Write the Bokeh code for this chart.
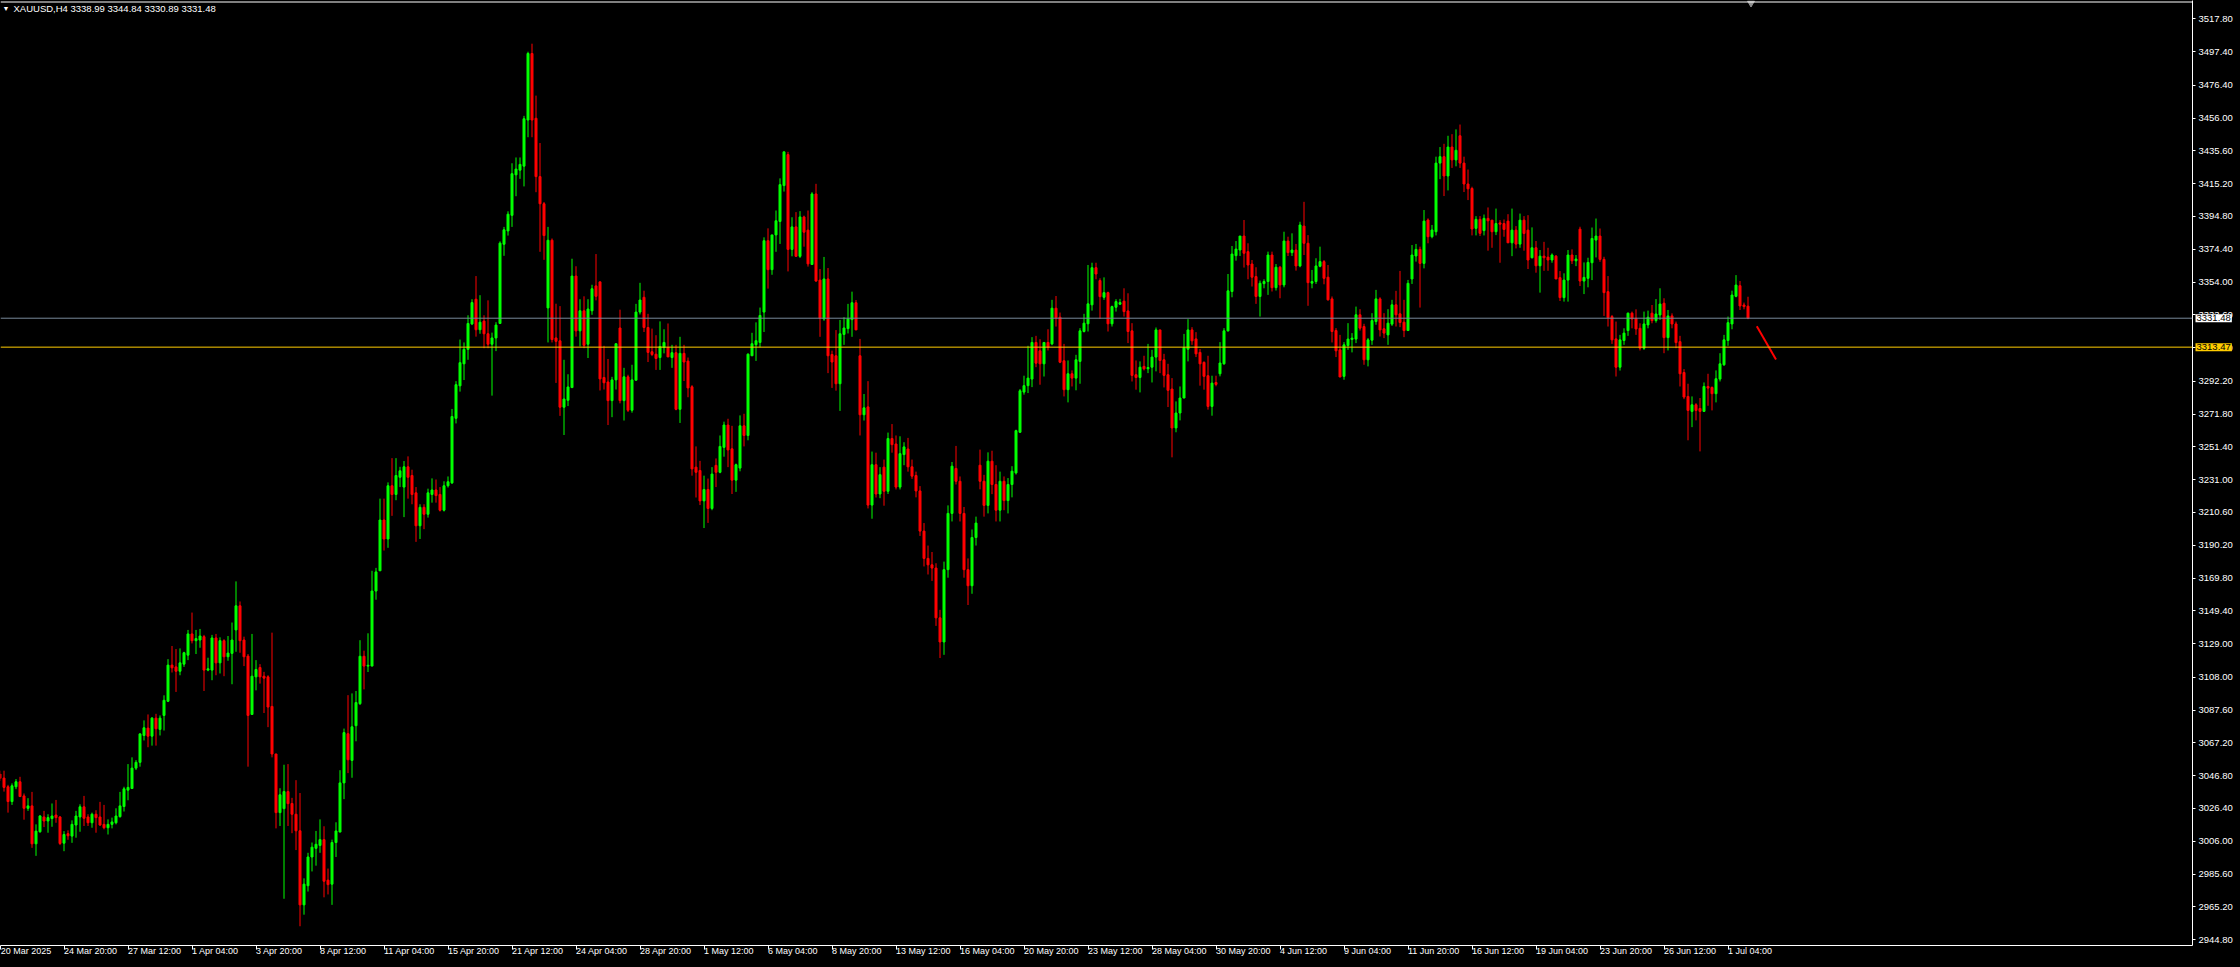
from bokeh.plotting import figure
from bokeh.models import Range1d, FixedTicker, Span, Label, ColumnDataSource, GlobalInlineStyleSheet
from bokeh.embed import file_html
from bokeh.resources import INLINE

# ---------------- data ----------------
symbol = "XAUUSD,H4"

date_labels = ["20 Mar 2025", "24 Mar 20:00", "27 Mar 12:00", "1 Apr 04:00", "3 Apr 20:00",
               "8 Apr 12:00", "11 Apr 04:00", "15 Apr 20:00", "21 Apr 12:00", "24 Apr 04:00",
               "28 Apr 20:00", "1 May 12:00", "6 May 04:00", "8 May 20:00", "13 May 12:00",
               "16 May 04:00", "20 May 20:00", "23 May 12:00", "28 May 04:00", "30 May 20:00",
               "4 Jun 12:00", "9 Jun 04:00", "11 Jun 20:00", "16 Jun 12:00", "19 Jun 04:00",
               "23 Jun 20:00", "26 Jun 12:00", "1 Jul 04:00"]
bars_per_label = 16

opens = [
3047.8,3045.3,3039.9,3030.7,3039.9,3043.0,3034.2,3026.5,3028.0,3004.4,3011.9,3021.1,3018.6,3020.1,3022.3,3021.1,3004.8,3010.7,3009.2,3016.1,
3021.1,3027.4,3021.1,3017.5,3022.8,3021.1,3016.5,3014.4,3016.5,3017.5,3021.3,3027.6,3037.8,3038.8,3051.5,3055.1,3071.8,3076.4,3071.4,3082.6,
3075.6,3084.3,3093.1,3115.6,3114.5,3111.8,3116.2,3121.8,3135.0,3130.8,3131.2,3133.3,3112.5,3112.5,3132.5,3117.0,3130.8,3120.8,3122.9,3137.5,
3152.5,3131.2,3121.2,3084.9,3108.3,3114.1,3108.7,3108.3,3089.9,3060.3,3023.8,3026.3,3036.9,3029.5,3022.8,3012.5,2966.4,2978.3,2996.2,3001.6,
3003.4,3007.0,2981.8,2979.3,3005.2,3011.7,3042.3,3072.9,3056.3,3077.9,3091.6,3121.1,3115.0,3115.0,3161.7,3174.3,3205.9,3194.1,3227.2,3221.8,
3232.5,3226.4,3239.0,3233.6,3222.8,3202.3,3213.8,3209.5,3221.8,3224.6,3221.8,3212.0,3227.2,3229.0,3269.2,3289.4,3303.1,3312.1,3327.9,3343.3,
3324.3,3329.7,3321.8,3315.3,3319.2,3328.2,3377.5,3385.8,3395.5,3420.7,3423.6,3426.1,3454.8,3496.2,3455.9,3419.6,3402.7,3337.9,3380.0,3319.2,
3317.4,3276.1,3280.4,3288.3,3357.7,3323.6,3336.1,3315.3,3336.1,3351.6,3354.1,3294.6,3291.8,3280.2,3293.1,3325.4,3280.2,3295.0,3274.2,3292.9,
3335.3,3344.5,3325.7,3310.6,3309.1,3307.0,3313.2,3313.2,3307.0,3310.0,3274.8,3309.6,3304.8,3288.8,3238.8,3236.7,3217.8,3224.9,3213.1,3239.9,
3235.6,3251.1,3265.0,3250.2,3230.7,3238.2,3264.5,3258.5,3308.1,3315.0,3316.4,3335.3,3379.7,3361.7,3383.3,3391.7,3414.0,3433.3,3374.3,3388.3,
3370.0,3394.5,3386.3,3364.9,3408.8,3355.2,3331.0,3355.9,3308.9,3308.1,3290.7,3321.4,3325.0,3330.6,3341.1,3308.1,3271.4,3276.3,3215.2,3240.3,
3222.1,3238.8,3223.8,3256.6,3253.2,3226.4,3246.6,3250.1,3239.0,3233.6,3224.0,3199.0,3182.0,3178.0,3176.0,3145.0,3130.0,3175.0,3210.0,3238.0,
3230.0,3210.0,3175.0,3165.0,3195.0,3240.0,3230.0,3215.0,3242.5,3228.0,3212.0,3230.0,3218.0,3228.0,3235.2,3260.5,3285.5,3289.5,3293.6,3316.4,
3311.2,3303.1,3316.4,3315.5,3337.7,3332.1,3305.0,3287.0,3296.9,3294.2,3304.6,3323.2,3328.0,3339.8,3362.9,3354.9,3344.5,3347.4,3328.0,3338.3,
3340.2,3342.1,3336.0,3323.6,3296.3,3294.6,3301.5,3300.0,3301.0,3307.3,3324.2,3305.6,3296.3,3287.4,3263.2,3272.5,3281.8,3312.2,3324.2,3318.6,
3310.2,3304.0,3295.7,3276.6,3291.5,3296.9,3303.1,3323.6,3348.1,3370.4,3373.9,3382.6,3372.9,3365.2,3357.4,3345.0,3353.0,3354.3,3370.8,3350.5,
3363.2,3352.2,3379.5,3372.3,3373.9,3364.0,3388.8,3378.1,3353.3,3354.3,3363.8,3366.7,3357.0,3343.5,3323.8,3311.8,3295.3,3314.5,3318.3,3318.5,
3333.6,3326.3,3305.6,3317.8,3329.4,3343.5,3324.9,3321.1,3327.8,3339.8,3334.2,3329.0,3323.8,3355.9,3370.2,3374.3,3365.6,3392.6,3382.2,3385.3,
3428.0,3432.0,3420.0,3438.0,3430.0,3445.0,3428.0,3415.0,3412.2,3387.4,3393.0,3386.0,3393.6,3392.5,3385.3,3390.8,3390.4,3391.9,3378.4,3386.3,
3377.6,3392.5,3386.3,3369.1,3375.3,3364.1,3370.1,3369.5,3367.7,3370.1,3356.7,3344.3,3355.2,3370.8,3367.2,3386.9,3354.6,3356.3,3366.0,3380.1,
3382.6,3368.1,3348.0,3332.5,3318.6,3301.0,3317.6,3323.8,3334.6,3331.4,3325.2,3312.8,3327.3,3334.6,3330.0,3333.5,3340.8,3319.4,3332.9,3327.9,
3316.9,3297.7,3282.8,3273.5,3277.6,3275.3,3273.5,3289.0,3288.4,3284.5,3293.6,3302.5,3317.6,3327.9,3345.1,3351.7,3339.7,3338.99]

highs = [
3049.9,3049.9,3041.1,3042.0,3044.7,3046.1,3035.7,3032.8,3036.7,3016.5,3022.3,3024.9,3022.8,3029.5,3031.7,3021.7,3012.3,3012.8,3019.0,3024.9,
3029.0,3034.2,3022.8,3023.8,3025.3,3030.5,3028.6,3019.6,3020.7,3026.5,3036.7,3039.9,3054.0,3058.2,3056.5,3073.2,3081.2,3084.9,3083.3,3085.3,
3084.3,3096.8,3119.3,3127.5,3125.6,3126.0,3123.9,3137.5,3148.3,3137.5,3138.1,3134.4,3120.2,3134.4,3135.0,3132.9,3131.7,3133.7,3142.1,3167.7,
3155.2,3133.3,3122.5,3135.0,3118.7,3116.2,3111.4,3109.3,3135.8,3060.3,3039.0,3053.6,3054.0,3033.0,3044.0,3036.0,2982.9,2998.8,3005.2,3012.4,
3019.6,3015.3,2989.0,3007.0,3017.8,3050.2,3076.1,3096.9,3098.0,3099.5,3131.1,3124.6,3135.4,3174.3,3176.1,3219.2,3219.2,3229.3,3244.4,3244.4,
3239.0,3242.6,3245.5,3237.2,3226.4,3215.7,3215.7,3225.4,3231.8,3231.1,3226.4,3230.0,3233.0,3275.0,3292.3,3318.2,3316.4,3333.3,3343.3,3357.7,
3345.8,3333.3,3342.6,3322.5,3329.0,3379.3,3388.3,3398.0,3427.9,3431.5,3431.5,3457.4,3497.3,3502.3,3470.0,3440.5,3403.8,3388.3,3381.1,3340.5,
3339.0,3305.6,3296.6,3368.5,3363.8,3343.3,3345.1,3343.3,3352.3,3371.4,3354.1,3314.3,3306.1,3295.0,3315.6,3336.8,3300.6,3296.3,3302.5,3340.4,
3353.5,3348.6,3334.2,3325.0,3320.9,3329.5,3324.6,3328.2,3314.9,3314.9,3319.9,3314.9,3307.0,3289.8,3251.7,3242.7,3233.5,3231.7,3238.8,3244.2,
3258.5,3267.1,3268.9,3264.5,3241.0,3271.0,3272.0,3309.6,3322.4,3328.9,3338.1,3381.8,3387.4,3383.3,3398.5,3418.5,3435.0,3435.0,3394.3,3397.5,
3398.1,3395.3,3398.5,3409.9,3415.1,3362.1,3369.6,3362.7,3311.3,3324.1,3330.4,3332.1,3340.4,3348.0,3342.8,3318.6,3284.3,3292.3,3248.5,3247.8,
3238.8,3243.5,3260.3,3265.6,3258.5,3258.0,3254.3,3257.0,3243.5,3236.0,3227.0,3204.0,3190.0,3186.0,3179.0,3150.0,3180.0,3215.0,3242.0,3252.0,
3233.0,3214.0,3182.0,3200.0,3208.0,3249.7,3234.0,3248.0,3249.0,3240.0,3236.0,3233.0,3232.0,3239.4,3262.1,3287.4,3295.7,3314.3,3319.7,3320.5,
3318.4,3316.4,3324.6,3342.9,3345.3,3335.0,3315.5,3305.2,3299.0,3308.7,3325.3,3334.2,3364.6,3366.0,3366.0,3356.3,3356.9,3348.0,3339.3,3343.3,
3343.5,3350.1,3347.0,3328.4,3305.2,3304.6,3308.1,3315.5,3311.8,3325.7,3324.2,3309.3,3303.1,3294.2,3279.7,3289.0,3321.7,3330.9,3325.9,3322.8,
3312.3,3304.6,3308.1,3295.7,3295.7,3316.6,3325.3,3359.0,3376.4,3379.5,3382.6,3392.6,3378.1,3367.7,3363.2,3354.9,3355.7,3372.9,3372.9,3365.2,
3364.0,3385.3,3382.2,3384.3,3377.7,3391.5,3403.9,3383.2,3361.5,3368.8,3376.0,3367.7,3364.6,3345.0,3325.3,3321.1,3316.6,3328.4,3322.2,3338.7,
3337.1,3328.0,3319.1,3334.6,3349.1,3344.5,3334.6,3337.1,3342.9,3348.5,3360.9,3342.9,3355.3,3377.0,3377.7,3376.0,3398.8,3393.6,3389.5,3432.0,
3438.0,3440.0,3445.0,3446.0,3449.0,3452.0,3432.0,3424.0,3413.3,3395.0,3395.0,3396.0,3400.4,3392.5,3399.7,3392.5,3392.9,3396.2,3399.7,3388.8,
3396.6,3395.0,3395.6,3388.0,3379.5,3373.9,3379.0,3375.3,3371.8,3370.8,3360.8,3359.4,3373.9,3374.3,3370.8,3388.4,3366.2,3369.1,3387.9,3393.5,
3387.3,3369.7,3357.7,3333.5,3329.4,3321.1,3325.2,3335.0,3335.6,3337.0,3328.3,3335.6,3336.2,3339.7,3343.4,3350.1,3343.9,3336.6,3334.5,3329.4,
3320.5,3299.8,3290.7,3282.8,3278.6,3281.8,3291.5,3296.9,3289.0,3299.0,3309.7,3321.1,3332.5,3348.6,3358.3,3354.6,3341.2,3344.84]

lows = [
3043.5,3036.9,3023.8,3028.6,3038.4,3033.8,3019.4,3024.9,3001.9,2996.9,3011.3,3014.8,3011.3,3015.0,3017.5,3003.6,2999.8,3006.9,3005.0,3008.2,
3011.9,3015.5,3015.5,3014.4,3011.3,3015.5,3013.4,3010.2,3014.0,3016.5,3020.7,3024.5,3031.5,3038.8,3050.3,3052.4,3068.7,3064.5,3065.5,3065.5,
3071.8,3074.9,3092.6,3111.0,3098.9,3109.3,3114.5,3118.7,3129.1,3122.5,3126.4,3099.5,3111.8,3106.2,3109.3,3110.4,3108.7,3118.3,3103.7,3123.9,
3123.3,3115.0,3052.4,3084.9,3099.9,3104.1,3085.8,3077.0,3058.2,3014.0,3015.5,2970.2,3015.5,3011.0,3000.5,2953.1,2960.3,2974.7,2987.2,2990.8,
2998.8,2971.1,2972.9,2966.4,2996.2,3011.7,3032.2,3048.4,3045.5,3068.2,3090.8,3100.5,3111.3,3115.0,3156.3,3174.3,3186.9,3188.6,3208.5,3218.2,
3226.4,3207.7,3219.2,3215.7,3192.3,3194.1,3200.2,3207.4,3216.7,3216.7,3211.2,3211.2,3226.1,3228.3,3266.0,3285.8,3293.0,3305.6,3327.2,3320.0,
3321.8,3312.8,3312.8,3283.3,3311.0,3328.2,3370.3,3382.9,3388.3,3407.4,3418.2,3413.5,3444.1,3444.1,3409.9,3372.8,3367.8,3316.4,3316.4,3291.2,
3270.7,3258.8,3276.8,3288.3,3320.0,3313.9,3312.8,3306.7,3333.6,3342.6,3286.5,3287.1,3265.0,3269.9,3287.1,3278.5,3267.8,3273.1,3272.7,3292.9,
3333.8,3322.9,3304.2,3307.9,3299.3,3299.3,3309.6,3307.4,3300.6,3274.2,3266.3,3292.4,3282.3,3233.5,3219.9,3215.2,3200.9,3204.1,3212.0,3226.4,
3235.0,3245.3,3238.8,3222.1,3223.4,3236.2,3251.7,3255.5,3308.1,3304.9,3313.4,3322.9,3349.9,3358.5,3372.8,3377.7,3410.3,3360.6,3370.0,3369.6,
3369.0,3376.0,3363.6,3364.9,3354.2,3319.9,3329.9,3297.3,3288.1,3286.4,3273.8,3314.9,3322.0,3319.9,3324.2,3258.5,3267.8,3213.1,3206.7,3219.9,
3219.5,3214.8,3222.1,3247.8,3224.9,3224.9,3240.0,3236.0,3231.5,3220.0,3196.0,3177.0,3172.0,3168.0,3140.0,3120.0,3122.0,3170.0,3205.0,3228.0,
3205.0,3170.0,3153.0,3160.0,3190.0,3225.0,3208.0,3210.0,3222.0,3205.0,3205.0,3212.0,3210.0,3220.0,3234.2,3260.1,3283.9,3284.9,3288.6,3301.0,
3290.1,3295.2,3311.4,3314.7,3326.3,3303.5,3282.8,3279.1,3289.0,3286.6,3290.7,3322.6,3323.2,3336.2,3355.7,3331.1,3342.9,3323.2,3326.3,3335.6,
3339.8,3332.5,3316.0,3292.1,3287.0,3285.3,3299.0,3297.3,3291.5,3298.4,3297.3,3288.4,3276.2,3244.9,3260.5,3267.9,3281.8,3304.6,3314.9,3307.3,
3289.5,3287.0,3274.6,3270.8,3289.1,3295.3,3302.5,3323.2,3344.5,3367.3,3370.2,3363.0,3355.7,3351.2,3340.4,3332.5,3350.1,3346.0,3348.1,3348.7,
3343.9,3350.7,3370.2,3370.2,3361.1,3363.2,3370.8,3339.2,3350.1,3352.8,3363.2,3352.6,3342.5,3316.4,3307.3,3294.9,3293.2,3311.8,3310.2,3316.0,
3323.8,3302.5,3301.5,3314.9,3327.4,3320.1,3319.1,3314.9,3326.7,3326.3,3325.9,3319.7,3323.8,3352.8,3366.7,3338.1,3362.5,3378.1,3381.2,3383.0,
3418.0,3407.5,3411.0,3425.0,3426.0,3425.0,3410.0,3405.0,3383.0,3383.0,3382.6,3383.0,3373.5,3375.3,3383.2,3366.0,3382.2,3378.4,3370.1,3374.9,
3375.3,3373.5,3362.1,3368.7,3359.8,3347.4,3361.0,3361.0,3366.0,3355.9,3342.2,3341.8,3341.8,3365.2,3363.9,3351.5,3346.5,3350.7,3355.2,3369.3,
3366.6,3332.9,3326.3,3315.5,3295.2,3298.9,3314.9,3320.5,3325.2,3321.1,3311.4,3311.8,3325.2,3328.3,3328.7,3330.4,3309.7,3311.4,3325.2,3312.8,
3289.0,3281.1,3255.5,3263.7,3267.9,3248.6,3273.5,3277.0,3274.1,3279.1,3292.1,3301.8,3314.3,3324.6,3344.5,3336.6,3337.0,3330.89]

closes = [
3045.1,3039.5,3030.7,3040.5,3043.0,3033.8,3026.5,3028.0,3004.4,3012.3,3021.7,3018.6,3020.7,3021.7,3020.7,3004.6,3010.2,3009.4,3016.5,3021.7,
3027.4,3020.3,3017.5,3022.8,3020.7,3016.1,3014.4,3016.5,3018.0,3021.7,3028.0,3038.6,3039.5,3051.5,3055.1,3072.8,3076.6,3071.4,3082.6,3076.0,
3082.6,3093.7,3115.6,3113.9,3111.8,3117.0,3123.3,3135.0,3130.8,3132.1,3133.7,3112.5,3113.3,3132.5,3117.0,3130.8,3120.8,3123.1,3131.2,3152.5,
3130.8,3120.8,3084.3,3108.7,3112.9,3108.3,3107.5,3089.5,3060.3,3023.8,3034.9,3036.9,3029.4,3022.8,3012.5,2966.4,2979.3,2996.2,3002.3,3004.1,
3007.0,2981.1,2979.0,3005.2,3012.4,3042.3,3073.6,3056.7,3077.2,3092.3,3121.1,3115.0,3115.5,3161.7,3173.6,3205.9,3194.1,3227.2,3221.8,3233.6,
3236.5,3239.0,3232.5,3221.8,3202.3,3213.8,3209.5,3222.8,3224.6,3221.1,3212.0,3227.2,3229.7,3270.3,3290.1,3303.8,3312.1,3328.2,3341.2,3324.3,
3329.0,3321.8,3315.3,3319.2,3327.2,3378.2,3386.5,3396.2,3421.4,3424.3,3427.2,3455.6,3496.2,3454.8,3419.6,3402.7,3382.9,3380.0,3318.2,3317.1,
3276.1,3281.2,3288.7,3357.7,3323.6,3336.1,3314.6,3337.2,3349.8,3345.1,3293.7,3291.3,3280.2,3293.1,3315.6,3280.2,3295.0,3274.2,3293.1,3335.3,
3342.8,3325.7,3310.2,3308.9,3306.4,3313.9,3316.4,3307.4,3310.0,3274.8,3309.6,3304.2,3288.1,3237.7,3235.6,3217.8,3224.9,3213.1,3234.5,3235.6,
3251.7,3265.0,3249.5,3230.7,3240.3,3264.5,3258.5,3309.1,3315.6,3317.5,3333.2,3379.7,3361.7,3383.3,3392.1,3414.6,3435.0,3374.3,3388.3,3370.0,
3394.5,3385.0,3365.3,3408.8,3354.6,3331.4,3355.9,3308.1,3304.2,3290.7,3321.8,3325.4,3331.0,3341.1,3324.2,3271.4,3275.7,3215.2,3240.3,3222.1,
3234.1,3223.8,3256.6,3252.8,3226.4,3247.2,3251.4,3239.0,3233.2,3224.0,3199.0,3182.0,3178.0,3176.0,3145.0,3130.0,3175.0,3210.0,3239.4,3230.0,
3210.0,3175.0,3165.0,3195.0,3204.0,3230.0,3215.0,3242.5,3228.0,3212.0,3230.0,3218.0,3228.0,3236.3,3261.5,3286.3,3289.5,3294.2,3316.4,3303.5,
3303.1,3316.4,3313.5,3337.7,3331.7,3304.1,3287.0,3296.9,3294.2,3305.6,3323.6,3328.4,3340.4,3362.9,3359.0,3344.9,3347.4,3328.0,3338.7,3341.8,
3341.2,3335.6,3323.2,3295.9,3294.6,3301.0,3300.0,3300.8,3307.3,3324.2,3305.2,3295.9,3286.6,3263.2,3272.5,3281.8,3313.3,3324.2,3317.4,3309.3,
3303.1,3295.3,3276.6,3291.1,3290.3,3303.6,3323.6,3348.5,3371.4,3374.5,3382.6,3371.9,3364.6,3357.0,3345.0,3353.2,3354.3,3370.8,3350.5,3363.2,
3352.2,3379.5,3372.3,3373.9,3364.0,3389.5,3378.1,3353.6,3354.3,3364.0,3366.7,3356.3,3342.9,3323.2,3311.2,3294.9,3314.9,3318.5,3319.1,3333.6,
3325.3,3305.6,3318.0,3330.0,3343.5,3324.2,3322.2,3328.4,3339.8,3333.6,3328.8,3323.8,3353.2,3370.8,3374.3,3365.6,3391.9,3382.2,3386.4,3428.0,
3432.0,3420.0,3438.0,3430.0,3436.0,3428.0,3415.0,3412.0,3387.0,3393.0,3384.3,3393.6,3392.1,3385.3,3390.4,3390.0,3386.7,3378.4,3386.3,3377.6,
3392.5,3384.2,3367.7,3375.3,3364.1,3370.1,3369.1,3367.7,3370.8,3355.9,3344.3,3355.2,3370.8,3367.2,3368.3,3354.6,3356.9,3366.2,3381.1,3382.6,
3368.1,3347.4,3331.8,3318.0,3301.0,3318.0,3322.2,3334.6,3331.0,3324.8,3312.8,3327.9,3332.1,3330.0,3334.1,3340.3,3319.4,3332.9,3327.9,3316.3,
3296.9,3282.4,3274.1,3277.6,3274.1,3273.5,3289.0,3288.0,3284.5,3293.8,3303.1,3318.0,3328.7,3345.9,3352.1,3339.1,3338.7,3331.48]

price_labels = [2944.80, 2965.20, 2985.60, 3006.00, 3026.40, 3046.80, 3067.20, 3087.60, 3108.00,
                3129.00, 3149.40, 3169.80, 3190.20, 3210.60, 3231.00, 3251.40, 3271.80, 3292.20,
                3313.20, 3333.60, 3354.00, 3374.40, 3394.80, 3415.20, 3435.60, 3456.00, 3476.40,
                3497.40, 3517.80]
level_price = 3313.47            # user horizontal line
trend_bars = [439.2, 444.0]      # hand-drawn red trend line
trend_prices = [3326.5, 3305.8]

# ---------------- geometry ----------------
FRAME_W, FRAME_H = 2192, 945
RIGHT_W, BOTTOM_H = 48, 22
PX_PER_BAR = 4.0
PRICE_PER_PX = 0.6223
x_start = 0.125
x_end = x_start + FRAME_W / PX_PER_BAR
y_top = 3529.19
y_bot = y_top - FRAME_H * PRICE_PER_PX

UP = "#00FF00"
DN = "#FF0000"
BID_COL = "#778899"
LEVEL_COL = "#FFCC00"
FONT = "Liberation Sans"

n = len(closes)
cols = [UP if c >= o else DN for o, c in zip(opens, closes)]
src = ColumnDataSource(dict(
    x=list(range(n)), o=opens, h=highs, l=lows, c=closes,
    top=[max(o, c) for o, c in zip(opens, closes)],
    bot=[min(o, c) for o, c in zip(opens, closes)],
    col=cols))

p = figure(frame_width=FRAME_W, frame_height=FRAME_H,
           x_range=Range1d(x_start, x_end), y_range=Range1d(y_bot, y_top),
           output_backend="svg", toolbar_location=None, y_axis_location="right",
           background_fill_color="black", border_fill_color="black", outline_line_color=None,
           min_border_left=0, min_border_top=0, min_border_right=RIGHT_W, min_border_bottom=BOTTOM_H)
p.xgrid.visible = False
p.ygrid.visible = False
p.stylesheets = [GlobalInlineStyleSheet(
    css="html, body { margin: 0; padding: 0; background-color: #000000; overflow: hidden; }")]

# candles
p.segment(x0="x", y0="l", x1="x", y1="h", color="col", line_width=1, source=src)
p.vbar(x="x", width=0.5, top="top", bottom="bot", fill_color="col", line_color="col",
       line_width=1, source=src)

# horizontal lines
p.add_layout(Span(location=closes[-1], dimension="width", line_color=BID_COL, line_width=1))
p.add_layout(Span(location=level_price, dimension="width", line_color=LEVEL_COL, line_width=1))
p.add_layout(Span(location=y_top - 1.5 * PRICE_PER_PX, dimension="width", line_color="white", line_width=1))

# hand drawn trend line
p.line(trend_bars, trend_prices, line_color="#FF0000", line_width=2)

# chart shift marker
p.scatter([n - 0.25], [y_top - 2.5 * PRICE_PER_PX], marker="inverted_triangle", size=7,
          fill_color="#909090", line_color="#909090")

# x axis (labels start at the tick, as in the terminal)
xt = [k * bars_per_label for k in range(len(date_labels))]
xt[0] = max(xt[0], x_start + 0.05)
xa = p.xaxis[0]
xa.ticker = FixedTicker(ticks=xt)
xa.major_label_overrides = {t: lab for t, lab in zip(xt, date_labels)}
xa.major_label_orientation = -1e-6
xa.major_label_text_color = "white"
xa.major_label_text_font = FONT
xa.major_label_text_font_size = "9px"
xa.major_label_standoff = 1
xa.axis_line_color = "white"
xa.major_tick_line_color = "white"
xa.major_tick_out = 4
xa.major_tick_in = 0
xa.minor_tick_line_color = None

# y axis
ya = p.yaxis[0]
ya.ticker = FixedTicker(ticks=price_labels)
ya.major_label_overrides = {v: f"{v:.2f}" for v in price_labels}
ya.major_label_text_color = "white"
ya.major_label_text_font = FONT
ya.major_label_text_font_size = "9.5px"
ya.major_label_standoff = 3
ya.axis_line_color = "white"
ya.major_tick_line_color = "white"
ya.major_tick_out = 3
ya.major_tick_in = 0
ya.minor_tick_line_color = None

# price boxes on the price scale (placed in a side panel so they are not clipped to the frame)
for price, bg in [(closes[-1], "white"), (level_price, LEVEL_COL)]:
    p.add_layout(Label(x=FRAME_W + 3, x_units="screen", y=price, y_units="data",
                       text=f"{price:.2f}", text_color="black", text_font=FONT,
                       text_font_size="9.5px", text_baseline="middle",
                       background_fill_color=bg, padding=1), "below")

# header
hy = y_top - 8 * PRICE_PER_PX
p.add_layout(Label(x=2, x_units="screen", y=hy, y_units="data", text="\u25BC",
                   text_color="white", text_font=FONT, text_font_size="7px", text_baseline="middle"))
p.add_layout(Label(x=13, x_units="screen", y=hy, y_units="data",
                   text=f"{symbol}  {opens[-1]:.2f} {highs[-1]:.2f} {lows[-1]:.2f} {closes[-1]:.2f}",
                   text_color="white", text_font=FONT, text_font_size="9.5px", text_baseline="middle"))

open("out.html", "w").write(file_html(p, INLINE))
